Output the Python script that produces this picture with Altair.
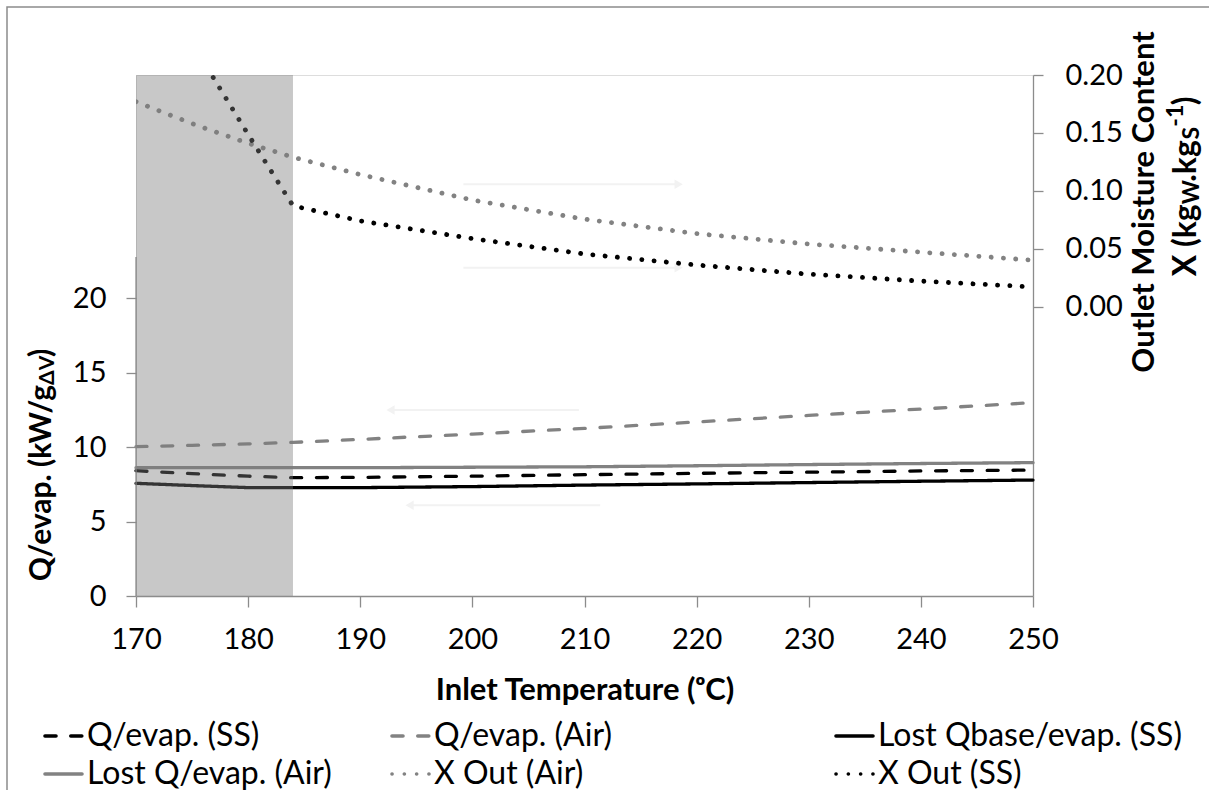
import altair as alt
import pandas as pd

# ---------------- data ----------------
T = [170, 175, 180, 184, 190, 200, 210, 220, 230, 240, 250]
q_ss = [8.42, 8.22, 8.05, 7.95, 7.97, 8.05, 8.15, 8.24, 8.32, 8.40, 8.46]
q_air = [10.03, 10.12, 10.22, 10.32, 10.52, 10.88, 11.26, 11.69, 12.13, 12.56, 12.99]
lost_ss = [7.57, 7.42, 7.28, 7.28, 7.28, 7.35, 7.45, 7.53, 7.62, 7.71, 7.79]
lost_air = [8.62, 8.62, 8.62, 8.62, 8.62, 8.65, 8.68, 8.75, 8.83, 8.90, 8.96]
x_air = [0.177, 0.158, 0.141, 0.129, 0.114, 0.092, 0.0755, 0.063, 0.054, 0.047, 0.040]
x_ss = [0.3065, 0.2276, 0.1487, 0.087, 0.074, 0.0587, 0.0454, 0.0359, 0.028, 0.022, 0.017]

names = ["Q/evap. (SS)", "Q/evap. (Air)", "Lost Qbase/evap. (SS)",
         "Lost Q/evap. (Air)", "X Out (Air)", "X Out (SS)"]
legend_col = [0, 1, 2, 0, 1, 2]
legend_row = [0, 0, 0, 1, 1, 1]

x_ticks = [170, 180, 190, 200, 210, 220, 230, 240, 250]
left_ticks = [0, 5, 10, 15, 20]
right_ticks = [0.0, 0.05, 0.10, 0.15, 0.20]

band_start = [170]
band_end = [184]
left_axis_top = [22.77]

arrow_r_from = [199.2, 199.2]
arrow_r_to = [218.4, 218.4]
arrow_r_val = [0.1056, 0.0336]
arrow_l_from = [209.5, 211.4]
arrow_l_to = [192.7, 194.4]
arrow_l_val = [12.5, 6.1]

# ---------------- styles ----------------
GRAY = "#828282"
AX = "#8c8c8c"
FONT = "Lato"
FS = 29
colors = ["#000000", GRAY, "#000000", GRAY, GRAY, "#000000"]
dashes = [[11, 14.8], [11, 14.8], [1, 0], [1, 0], [0.1, 12.2], [0.1, 12.2]]

rows = []
for nm, vals in zip(names[:4], [q_ss, q_air, lost_ss, lost_air]):
    for t, v in zip(T, vals):
        rows.append({"T": t, "v": v, "series": nm})
df_q = pd.DataFrame(rows)
rows = []
for nm, vals in zip(names[4:], [x_air, x_ss]):
    for t, v in zip(T, vals):
        rows.append({"T": t, "v": v, "series": nm})
df_x = pd.DataFrame(rows)

color_scale = alt.Scale(domain=names, range=colors)
dash_scale = alt.Scale(domain=names, range=dashes)
xs = alt.Scale(domain=[170, 250], nice=False, zero=False)
ly = alt.Scale(domain=[0, 35], nice=False, zero=False)
ry = alt.Scale(domain=[-0.25, 0.2], nice=False, zero=False)

x_axis = alt.Axis(values=x_ticks, format="d", title="Inlet Temperature (ᵒC)",
                  titleFont=FONT, titleFontSize=31, titleFontWeight="bold",
                  titleColor="black", titleY=94, titleBaseline="middle",
                  labelFont=FONT, labelFontSize=FS, labelColor="black",
                  labelPadding=18, tickSize=11, tickColor=AX, tickWidth=1.3,
                  domainColor=AX, domainWidth=1.3, grid=False, labelFlush=False)
X = alt.X("T:Q", scale=xs, axis=x_axis)

col_enc = alt.Color("series:N", scale=color_scale, legend=None)
dash_enc = alt.StrokeDash("series:N", scale=dash_scale, legend=None)

q_lines = alt.Chart(df_q).mark_line(strokeWidth=3.3, strokeCap="round").encode(
    x=X,
    y=alt.Y("v:Q", scale=ly,
            axis=alt.Axis(values=left_ticks, domain=False, title=None, grid=False,
                          tickSize=10, tickColor=AX, tickWidth=1.3,
                          labelFont=FONT, labelFontSize=FS, labelColor="black",
                          labelPadding=20)),
    color=col_enc, strokeDash=dash_enc)

left_rule = alt.Chart(pd.DataFrame({"T": [170], "lo": [0], "hi": left_axis_top})).mark_rule(
    color=AX, strokeWidth=1.3).encode(x=X, y=alt.Y("lo:Q", scale=ly), y2="hi:Q")

arr_l = pd.DataFrame({"T0": arrow_l_from, "T1": arrow_l_to, "v": arrow_l_val})
left_arrows = alt.Chart(arr_l).mark_rule(color="#f2f2f2", strokeWidth=2).encode(
    x=alt.X("T0:Q", scale=xs, axis=x_axis), x2="T1:Q", y=alt.Y("v:Q", scale=ly))
left_heads = alt.Chart(arr_l).mark_point(shape="triangle-left", filled=True, color="#f2f2f2",
                                         size=90, opacity=1).encode(
    x=alt.X("T1:Q", scale=xs, axis=x_axis), y=alt.Y("v:Q", scale=ly))

q_layer = alt.layer(left_arrows, left_heads, q_lines, left_rule)

arr_r = pd.DataFrame({"T0": arrow_r_from, "T1": arrow_r_to, "v": arrow_r_val})
right_arrows = alt.Chart(arr_r).mark_rule(color="#f2f2f2", strokeWidth=2).encode(
    x=alt.X("T0:Q", scale=xs, axis=x_axis), x2="T1:Q", y=alt.Y("v:Q", scale=ry))
right_heads = alt.Chart(arr_r).mark_point(shape="triangle-right", filled=True, color="#f2f2f2",
                                          size=90, opacity=1).encode(
    x=alt.X("T1:Q", scale=xs, axis=x_axis), y=alt.Y("v:Q", scale=ry))

x_lines = alt.Chart(df_x).mark_line(strokeWidth=4.8, strokeCap="round", clip=True).encode(
    x=X,
    y=alt.Y("v:Q", scale=ry,
            axis=alt.Axis(orient="right", values=right_ticks, format=".2f", title=None,
                          grid=False, domain=True, domainColor=AX, domainWidth=1.3,
                          tickSize=10, tickColor=AX, tickWidth=1.3,
                          labelFont=FONT, labelFontSize=FS, labelColor="black",
                          labelPadding=22)),
    color=col_enc, strokeDash=dash_enc)

x_layer = alt.layer(right_arrows, right_heads, x_lines)

band = alt.Chart(pd.DataFrame({"s": band_start, "e": band_end, "lo": [0], "hi": [35]})).mark_rect(
    color="#7b7b7b", opacity=0.42).encode(
    x=alt.X("s:Q", scale=xs, axis=x_axis), x2="e:Q",
    y=alt.Y("lo:Q", scale=ly, axis=None), y2="hi:Q")

data_layer = alt.layer(q_layer, x_layer, band).resolve_scale(y="independent")

# ---------------- legend (built from the series names) ----------------
df_leg = pd.DataFrame({"series": names, "col": legend_col, "row": legend_row})
lx = alt.Scale(domain=[0, 1, 2], range=[-91, 256, 700])
lyy = alt.Scale(domain=[0, 1], range=[661, 699])
leg_rule = alt.Chart(df_leg).mark_rule(strokeWidth=3.6, strokeCap="round", x2Offset=37).encode(
    x=alt.X("col:Q", scale=lx, axis=None), x2="col:Q",
    y=alt.Y("row:Q", scale=lyy, axis=None),
    color=col_enc, strokeDash=dash_enc)
leg_text = alt.Chart(df_leg).mark_text(align="left", baseline="middle", dx=42,
                                       font=FONT, fontSize=32, color="black").encode(
    x=alt.X("col:Q", scale=lx, axis=None),
    y=alt.Y("row:Q", scale=lyy, axis=None),
    text="series:N")
legend = alt.layer(leg_rule, leg_text)

# ---------------- rotated axis titles with sub/superscripts ----------------
one = pd.DataFrame({"a": [0]})


def txt(text, x, y, size=FS, align="center", angle=270):
    return alt.Chart(one).mark_text(text=text, angle=angle, align=align, baseline="middle",
                                    font=FONT, fontSize=size, fontWeight="bold",
                                    color="black").encode(x=alt.value(x), y=alt.value(y))


LX, LP = -94, 310
left_title = [
    txt("Q/evap. (kW/g", LX, LP, size=30, align="right"),
    txt("ΔV", LX + 6, LP, size=21, align="left"),
    txt(")", LX, LP - 28, size=30, align="left"),
]
RX1, RX2, RP = 1009, 1050, 129.3
right_title = [
    txt("Outlet Moisture Content", RX1, 127, size=31),
    txt("X (kg", RX2, RP, size=32, align="right"),
    txt("W", RX2 + 6, RP, size=23, align="left"),
    txt(".kg", RX2, RP - 22.5, size=32, align="left"),
    txt("S", RX2 + 6, RP - 64.7, size=23, align="left"),
    txt("-1", RX2 - 10, RP - 77.6, size=23, align="left"),
    txt(")", RX2, RP - 99.0, size=32, align="left"),
]

frame = alt.Chart(one).mark_rect(fill="white", fillOpacity=0, stroke="#8c8c8c",
                                 strokeWidth=1.5).encode(
    x=alt.value(-129), x2=alt.value(1095), y=alt.value(-68), y2=alt.value(735))

chart = alt.layer(frame, data_layer, legend, *left_title, *right_title).resolve_scale(
    x="independent", y="independent"
).properties(
    width=897, height=521,
    autosize=alt.AutoSizeParams(type="none"),
    padding={"left": 136, "top": 75, "right": 176, "bottom": 194},
    background="white",
).configure_view(stroke=None).configure(font=FONT)

chart.save("out.html", embed_options={"renderer": "svg", "actions": False})
